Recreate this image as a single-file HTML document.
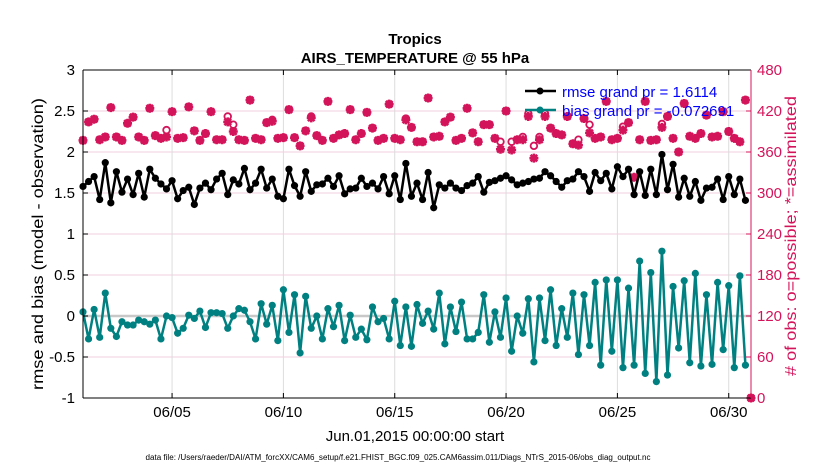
<!DOCTYPE html>
<html><head><meta charset="utf-8"><style>
body{margin:0;background:#fff;}
svg{display:block;font-family:"Liberation Sans",sans-serif;}
</style></head><body>
<svg id="chart" width="830" height="470" viewBox="0 0 830 470">
<g id="grid"></g>
<g id="series"></g>
<g id="axes"></g>
<text x="415" y="44" text-anchor="middle" font-size="15" font-weight="bold">Tropics</text>
<text x="415" y="63" text-anchor="middle" font-size="15" font-weight="bold">AIRS_TEMPERATURE @ 55 hPa</text>
<text x="415" y="441" text-anchor="middle" font-size="15">Jun.01,2015 00:00:00 start</text>
<text x="398" y="460" text-anchor="middle" font-size="8" textLength="505" lengthAdjust="spacingAndGlyphs">data file: /Users/raeder/DAI/ATM_forcXX/CAM6_setup/f.e21.FHIST_BGC.f09_025.CAM6assim.011/Diags_NTrS_2015-06/obs_diag_output.nc</text>
<text transform="translate(43,244) rotate(-90)" text-anchor="middle" font-size="16" textLength="292" lengthAdjust="spacingAndGlyphs">rmse and bias (model - observation)</text>
<text transform="translate(796,236) rotate(-90)" text-anchor="middle" font-size="16" fill="#d4145a" textLength="280" lengthAdjust="spacingAndGlyphs"># of obs: o=possible; *=assimilated</text>
<g>
<line x1="525" y1="91" x2="556" y2="91" stroke="#000" stroke-width="2.5"/><circle cx="540" cy="91" r="3.5" fill="#000"/>
<text x="562" y="97" font-size="15" fill="#0000ff">rmse grand pr = 1.6114</text>
<line x1="525" y1="110" x2="556" y2="110" stroke="#008080" stroke-width="2.5"/><circle cx="540" cy="110" r="3.5" fill="#008080"/>
<text x="562" y="116" font-size="15" fill="#0000ff">bias grand pr = -0.072691</text>
</g>
</svg>
<script>
const rmse=[1.58,1.64,1.70,1.42,1.87,1.38,1.76,1.51,1.67,1.48,1.74,1.45,1.79,1.68,1.61,1.55,1.65,1.43,1.53,1.57,1.36,1.56,1.62,1.54,1.67,1.74,1.48,1.66,1.61,1.80,1.54,
1.62,1.79,1.56,1.67,1.46,1.43,1.79,1.59,1.46,1.76,1.52,1.60,1.61,1.68,1.58,1.71,1.49,1.55,1.56,1.68,1.58,1.62,1.55,1.70,1.49,1.71,1.42,1.86,1.46,1.62,
1.42,1.75,1.32,1.60,1.56,1.62,1.56,1.53,1.59,1.62,1.70,1.51,1.63,1.65,1.68,1.71,1.66,1.60,1.62,1.64,1.67,1.68,1.76,1.71,1.64,1.57,1.65,1.67,1.76,1.70,
1.52,1.75,1.65,1.74,1.55,1.82,1.70,1.79,1.48,1.76,1.47,1.79,1.48,1.97,1.54,1.85,1.45,1.68,1.46,1.64,1.41,1.56,1.57,1.67,1.42,1.70,1.48,1.67,1.41];
const bias=[0.05,-0.28,0.08,-0.26,0.28,-0.15,-0.25,-0.07,-0.11,-0.11,-0.05,-0.07,-0.10,-0.05,-0.28,0.0,-0.02,-0.21,-0.15,0.01,-0.03,0.06,-0.14,0.04,0.04,0.03,-0.15,0.0,0.09,0.07,-0.07,
-0.28,0.15,-0.10,0.13,-0.30,0.32,-0.20,0.26,-0.45,0.24,-0.15,0.0,-0.28,0.09,-0.13,0.13,-0.30,0.01,-0.26,-0.16,-0.29,0.11,-0.07,-0.03,-0.28,0.18,-0.36,0.11,-0.37,0.14,
-0.09,0.06,-0.16,0.28,-0.34,0.11,-0.19,0.17,-0.28,-0.28,-0.20,0.26,-0.32,0.05,-0.26,0.22,-0.43,0.0,-0.21,0.21,-0.56,0.22,-0.30,0.32,-0.36,0.09,-0.26,0.28,-0.47,0.26,
-0.36,0.41,-0.60,0.44,-0.43,0.44,-0.63,0.34,-0.60,0.67,-0.70,0.53,-0.80,0.79,-0.72,0.36,-0.39,0.43,-0.57,0.52,-0.61,0.26,-0.59,0.41,-0.41,0.37,-0.63,0.49,-0.60];
const possible=[377,404,408,378,382,425,382,377,402,411,382,377,424,384,380,392,419,380,381,426,391,377,387,419,378,378,412,400,378,377,436,
380,378,403,407,380,381,422,381,369,391,412,384,377,434,380,385,387,422,378,387,418,395,377,380,430,380,378,409,396,375,
375,439,382,383,404,411,377,380,424,388,375,400,400,380,375,420,375,378,382,416,369,382,416,395,387,385,412,372,378,409,
400,380,382,434,378,380,397,403,323,378,434,377,378,401,412,380,360,431,383,380,387,414,382,383,419,390,380,375,436,0];
const assimilated=[377,404,408,378,382,425,382,377,402,411,382,377,424,384,380,382,419,380,381,426,391,377,387,419,378,378,404,390,378,377,436,
380,378,403,405,380,381,422,381,369,391,410,384,377,434,380,385,387,422,378,387,418,395,377,380,430,380,378,407,396,375,
375,439,382,383,404,411,377,380,424,388,375,400,400,380,364,420,363,378,378,412,351,378,412,395,387,385,412,372,370,409,
388,380,382,434,378,380,392,403,323,378,434,377,378,396,412,380,360,431,383,380,387,414,382,383,419,390,380,375,436,0];
const leftTicks=["3","2.5","2","1.5","1","0.5","0","-0.5","-1"];
const leftTickVals=[3,2.5,2,1.5,1,0.5,0,-0.5,-1];
const rightTickVals=[480,420,360,300,240,180,120,60,0];
const dateLabels=["06/05","06/10","06/15","06/20","06/25","06/30"];
const dateDays=[4,9,14,19,24,29];

const L=83,R=751,T=70,B=398;
const NS="http://www.w3.org/2000/svg";
const xS=d=>L+(d/30)*(R-L);
const yS=v=>T+(3-v)/4*(B-T);
const yR=n=>B-n/480*(B-T);
function mk(tag,attrs,parent){const e=document.createElementNS(NS,tag);for(const k in attrs)e.setAttribute(k,attrs[k]);parent.appendChild(e);return e;}
const grid=document.getElementById('grid'),series=document.getElementById('series'),axes=document.getElementById('axes');

leftTickVals.forEach((v,i)=>{
  const g=mk('line',{x1:L,x2:R,y1:yS(v),y2:yS(v),stroke:'#f2cfdc','stroke-width':1},grid);
  
  
  mk('line',{x1:L,x2:L+5,y1:yS(v),y2:yS(v),stroke:'#000'},axes);
  const t=mk('text',{x:L-8,y:yS(v)+5,'text-anchor':'end','font-size':15},axes);
  t.textContent=leftTicks[i];
  
  
});
rightTickVals.forEach(n=>{
  mk('line',{x1:R-5,x2:R,y1:yR(n),y2:yR(n),stroke:'#d4145a'},axes);
  const t=mk('text',{x:R+6,y:yR(n)+5,'font-size':15,fill:'#d4145a'},axes);
  t.textContent=String(n);
  
  
});
dateDays.forEach((d,i)=>{
  const g=mk('line',{x1:xS(d),x2:xS(d),y1:T,y2:B,stroke:'#dcdcdc'},grid);
  
  
  mk('line',{x1:xS(d),x2:xS(d),y1:B,y2:B-5,stroke:'#000'},axes);
  mk('line',{x1:xS(d),x2:xS(d),y1:T,y2:T+5,stroke:'#000'},axes);
  const t=mk('text',{x:xS(d),y:B+19,'text-anchor':'middle','font-size':15},axes);
  t.textContent=dateLabels[i];
  
  
});
const z=mk('line',{x1:L,x2:R,y1:yS(0),y2:yS(0),stroke:'#c8c8c8','stroke-width':2.5},grid);



const cnt=mk('g',{},series);


possible.forEach((n,i)=>{
  const x=xS(i*0.25),y=yR(n);
  const c=mk('circle',{cx:x,cy:y,r:3.3,fill:'none',stroke:'#d4145a','stroke-width':1.8},cnt);
  
  
});
assimilated.forEach((n,i)=>{
  const x=xS(i*0.25),y=yR(n);
  const s=mk('path',{d:`M${x-4.5},${y}H${x+4.5}M${x},${y-4.5}V${y+4.5}M${x-3.3},${y-3.3}L${x+3.3},${y+3.3}M${x-3.3},${y+3.3}L${x+3.3},${y-3.3}`,stroke:'#d4145a','stroke-width':2.6},cnt);
  
  
});
function drawLine(arr,color,name){
  const g=mk('g',{},series);
  
  
  const pts=arr.map((v,i)=>xS(i*0.25)+','+yS(v)).join(' ');
  mk('polyline',{points:pts,fill:'none',stroke:color,'stroke-width':2.5,'stroke-linejoin':'round'},g);
  arr.forEach((v,i)=>{
    const c=mk('circle',{cx:xS(i*0.25),cy:yS(v),r:3.6,fill:color},g);
    
    
  });
}
drawLine(rmse,'#000','rmse-series');
drawLine(bias,'#008080','bias-series');

mk('line',{x1:L,x2:R,y1:T,y2:T,stroke:'#000'},axes);
mk('line',{x1:L,x2:R,y1:B,y2:B,stroke:'#000'},axes);
mk('line',{x1:L,x2:L,y1:T,y2:B,stroke:'#000'},axes);
mk('line',{x1:R,x2:R,y1:T,y2:B,stroke:'#d4145a'},axes);
</script>
</body></html>
